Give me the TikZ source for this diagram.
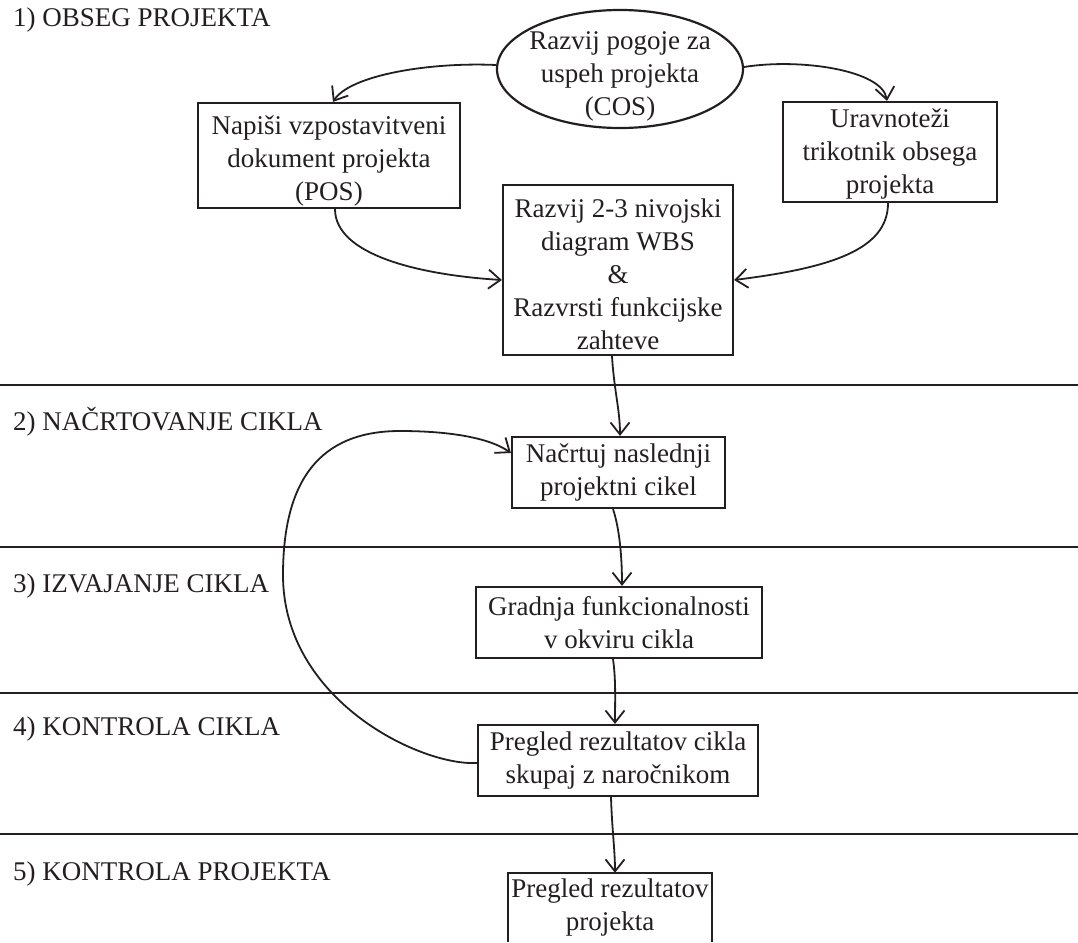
\documentclass[tikz,border=0pt]{standalone}
\usepackage{fontspec}
\setmainfont{Liberation Serif}
\usetikzlibrary{arrows.meta,shapes.geometric}
\definecolor{ink}{RGB}{35,31,32}

\begin{document}
\begin{tikzpicture}[x=1pt,y=1pt,
  every node/.style={font=\fontsize{27}{33}\selectfont, inner sep=0pt, text=ink},
  box/.style={draw=ink, line width=2.2pt, align=center},
  label text/.style={align=center},
  link/.style={draw=ink, line width=1.8pt, -{Straight Barb[length=12pt,width=19pt]}},
  sep/.style={draw=ink, line width=2pt},
  phase/.style={anchor=base west}]

\useasboundingbox (0,0) rectangle (1078,-942);

% phase separators
\draw[sep] (0,-385) -- (1078,-385);
\draw[sep] (0,-547) -- (1078,-547);
\draw[sep] (0,-693) -- (1078,-693);
\draw[sep] (0,-834) -- (1078,-834);

% phase titles
\node[phase] (ph1) at (13,-27)  {1) OBSEG PROJEKTA};
\node[phase] (ph2) at (13,-430) {2) NAČRTOVANJE CIKLA};
\node[phase] (ph3) at (13,-592) {3) IZVAJANJE CIKLA};
\node[phase] (ph4) at (13,-735) {4) KONTROLA CIKLA};
\node[phase] (ph5) at (13,-880) {5) KONTROLA PROJEKTA};

% activities: frames, with text set a little low in the taller ones
\node[draw=ink, line width=2.2pt, ellipse, minimum width=246, minimum height=118] (cos) at (620,-69) {};
\node[label text] (costext) at ([yshift=-7]cos.center) {Razvij pogoje za\\uspeh projekta\\(COS)};
\node[box, minimum width=262, minimum height=105] (pos) at (329,-155.5) {};
\node[label text] (postext) at ([yshift=-5]pos.center) {Napiši vzpostavitveni\\dokument projekta\\(POS)};
\node[box, minimum width=214, minimum height=100] (uro) at (890,-152) {};
\node[label text] (urotext) at ([yshift=-2]uro.center) {Uravnoteži\\trikotnik obsega\\projekta};
\node[box, minimum width=230, minimum height=170] (wbs) at (618,-270) {};
\node[label text] (wbstext) at ([yshift=-4]wbs.center) {Razvij 2-3 nivojski\\diagram WBS\\\&\\Razvrsti funkcijske\\zahteve};
\node[box, minimum width=213, minimum height=71] (nac) at (618.5,-472.5) {Načrtuj naslednji\\projektni cikel};
\node[box, minimum width=286, minimum height=71] (gra) at (619,-622.5) {Gradnja funkcionalnosti\\v okviru cikla};
\node[box, minimum width=280, minimum height=71] (pre) at (618,-760.5) {Pregled rezultatov cikla\\skupaj z naročnikom};
\node[align=center, minimum width=204, minimum height=69] (fin) at (610,-907.5) {Pregled rezultatov\\projekta};
\draw[draw=ink, line width=2.2pt] (fin.south west) -- (fin.north west) -- (fin.north east) -- (fin.south east);

% connectors
\draw[link] ([yshift=4]cos.west) .. controls (430,-62) and (350,-75) .. ([xshift=4]pos.north);
\draw[link] ([yshift=2]cos.east) .. controls (800,-58) and (882,-70) .. ([xshift=-3]uro.north);
\draw[link] ([xshift=6]pos.south) .. controls (335,-255) and (420,-275) .. ([yshift=-10]wbs.west);
\draw[link] ([xshift=-2]uro.south) .. controls (888,-250) and (830,-268) .. ([yshift=-10]wbs.east);
\draw[link] ([xshift=-6]wbs.south) .. controls (614,-390) and (620,-410) .. ([xshift=1.5]nac.north);
\draw[link] ([xshift=-5.5]nac.south) .. controls (620,-530) and (622,-560) .. ([xshift=3]gra.north);
\draw[link] ([xshift=-6]gra.south) .. controls (616,-680) and (615,-700) .. ([xshift=-3]pre.north);
\draw[link] ([xshift=-7]pre.south) .. controls (612,-830) and (615,-850) .. ([xshift=5]fin.north);

% feedback loop to the next cycle
\coordinate (loopL) at (283,-575);
\coordinate (loopT) at (400,-431);
\draw[link] ([yshift=-2.5]pre.west) .. controls (420,-766) and (283,-700) .. (loopL)
  .. controls (283,-480) and (320,-431) .. (loopT)
  .. controls (450,-431) and (490,-438) .. ([yshift=19.5]nac.west);

\end{tikzpicture}
\end{document}
